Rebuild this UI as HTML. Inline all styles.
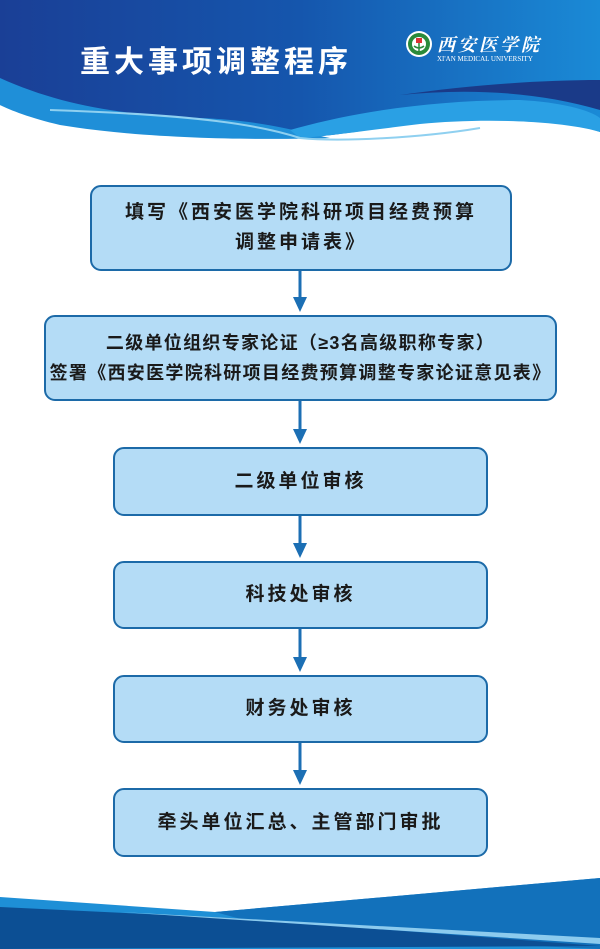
<!DOCTYPE html>
<html><head><meta charset="utf-8"><style>
html,body{margin:0;padding:0;background:#fff}
body{width:600px;height:949px;position:relative;overflow:hidden;font-family:"Liberation Sans","Noto Sans CJK SC",sans-serif}
.box{position:absolute;box-sizing:border-box;background:#b4dcf6;border:2px solid #1c6aa8;border-radius:11px;display:flex;flex-direction:column;align-items:center;justify-content:center;font-weight:bold;color:#1a1a1a;font-size:19px;letter-spacing:3px;line-height:30px;text-align:center;white-space:nowrap}
.t{position:absolute;color:#fff;font-weight:bold;font-size:30px;letter-spacing:4px;left:80px;top:37px}
</style></head><body>
<svg width="600" height="949" style="position:absolute;left:0;top:0">
<defs>
<linearGradient id="hg" x1="0" y1="0" x2="1" y2="0"><stop offset="0" stop-color="#1a3f96"/><stop offset="0.5" stop-color="#1556ad"/><stop offset="1" stop-color="#1a8ad6"/></linearGradient>
</defs>
<path d="M0,0H600V132C560,118 480,114 420,122C370,130 330,136 300,138C200,140 100,130 0,105Z" fill="url(#hg)"/>
<path d="M0,78C60,105 120,115 200,118C260,120 300,132 330,138C270,140 150,140 60,125C30,118 10,110 0,105Z" fill="#1f8fd8"/>
<path d="M290,130C360,110 440,100 520,100C560,102 590,110 600,118V132C560,120 480,118 420,124C370,130 330,136 300,138Z" fill="#2aa0e4"/>
<path d="M50,110C200,115 260,125 300,138C340,142 420,138 480,128" stroke="#8fd0f0" stroke-width="2" fill="none"/>
<path d="M400,95C470,88 540,92 600,110V80C540,80 470,85 400,95Z" fill="#1a3a88"/>
<path d="M0,897L215,912L600,878V949H0Z" fill="#1e8fd6"/>
<path d="M215,912L600,878V949L300,935Z" fill="#1271bb"/>
<path d="M0,907L230,918L600,946L0,949Z" fill="#0c4f94"/>
<path d="M120,912L600,944L600,938Z" fill="#8ccbee"/>
<g fill="#1c6fb4" stroke="#1c6fb4">
<line x1="300" y1="271" x2="300" y2="298" stroke-width="3"/><path d="M293,297H307L300,312Z" stroke="none"/>
<line x1="300" y1="401" x2="300" y2="430" stroke-width="3"/><path d="M293,429H307L300,444Z" stroke="none"/>
<line x1="300" y1="516" x2="300" y2="544" stroke-width="3"/><path d="M293,543H307L300,558Z" stroke="none"/>
<line x1="300" y1="629" x2="300" y2="658" stroke-width="3"/><path d="M293,657H307L300,672Z" stroke="none"/>
<line x1="300" y1="743" x2="300" y2="771" stroke-width="3"/><path d="M293,770H307L300,785Z" stroke="none"/>
</g>
<circle cx="419" cy="44" r="13" fill="#fff"/><circle cx="419" cy="44" r="11" fill="#2a8a3a"/><circle cx="419" cy="44" r="7" fill="#fff"/>
<rect x="416" y="38" width="6" height="5" fill="#d33"/><path d="M419,43V52M414,46Q419,50 424,46" stroke="#2a8a3a" stroke-width="1.5" fill="none"/>
<text x="437" y="51" fill="#fff" font-size="18" font-weight="bold" font-family="Noto Serif CJK SC,serif" font-style="italic" letter-spacing="3">西安医学院</text>
<text x="437" y="61" fill="#fff" font-size="7" font-family="Liberation Serif,serif">XI'AN MEDICAL UNIVERSITY</text>
</svg>
<div class="t">重大事项调整程序</div>
<div class="box" style="left:90px;top:185px;width:422px;height:86px"><div>填写《西安医学院科研项目经费预算</div><div>调整申请表》</div></div>
<div class="box" style="left:44px;top:315px;width:513px;height:86px;font-size:18px;letter-spacing:1.3px"><div>二级单位组织专家论证（≥3名高级职称专家）</div><div>签署《西安医学院科研项目经费预算调整专家论证意见表》</div></div>
<div class="box" style="left:113px;top:447px;width:375px;height:69px">二级单位审核</div>
<div class="box" style="left:113px;top:561px;width:375px;height:68px">科技处审核</div>
<div class="box" style="left:113px;top:675px;width:375px;height:68px">财务处审核</div>
<div class="box" style="left:113px;top:788px;width:375px;height:69px">牵头单位汇总、主管部门审批</div>
</body></html>
